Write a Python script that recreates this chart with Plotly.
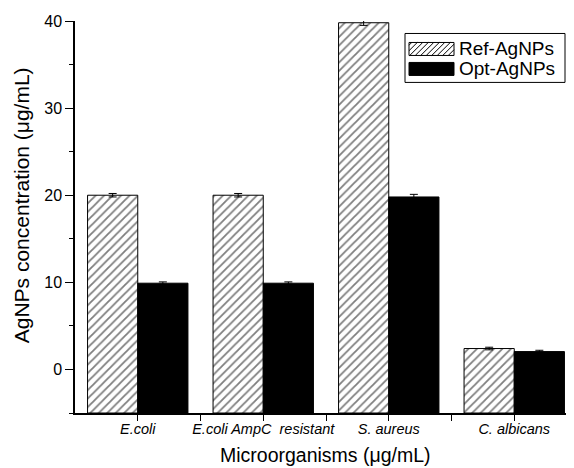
import plotly.graph_objects as go

categories = ["E.coli", "E.coli AmpC\u00a0 resistant", "S. aureus", "C. albicans"]
ref_values = [20.0, 20.0, 39.8, 2.4]
ref_errors = [0.2, 0.2, 0.3, 0.15]
opt_values = [9.9, 9.9, 19.8, 2.05]
opt_errors = [0.15, 0.15, 0.3, 0.15]
series_names = ["Ref-AgNPs", "Opt-AgNPs"]
y_ticks = [0, 10, 20, 30, 40]
AXIS_MIN, AXIS_MAX = -5, 40
x_title = "Microorganisms (μg/mL)"
y_title = "AgNPs concentration (μg/mL)"

idx = list(range(len(categories)))
FONT = "Arial, Liberation Sans, sans-serif"

# figure geometry (page has an 8px body margin)
W, H = 566, 460
ML, MR, MT, MB = 67, 0, 12.5, 55
PW, PH = W - ML - MR, H - MT - MB
OFF = 8


def px(x):  # page x pixel -> paper
    return (x - OFF - ML) / PW


def py(y):  # page y pixel -> paper
    return 1 - (y - OFF - MT) / PH


fig = go.Figure()
fig.add_trace(go.Bar(
    x=idx, y=[v - AXIS_MIN for v in ref_values], base=AXIS_MIN, name=series_names[0],
    showlegend=False,
    marker=dict(color="white", line=dict(color="black", width=1),
                pattern=dict(shape="/", fgcolor="black", bgcolor="white", size=6, solidity=0.3)),
    error_y=dict(type="data", array=ref_errors, color="black", thickness=1, width=4),
))
fig.add_trace(go.Bar(
    x=idx, y=[v - AXIS_MIN for v in opt_values], base=AXIS_MIN, name=series_names[1],
    showlegend=False,
    marker=dict(color="black", line=dict(color="black", width=1)),
    error_y=dict(type="data", array=opt_errors, color="black", thickness=1, width=4),
))

shapes = []
annotations = []
# legend box
shapes.append(dict(type="rect", xref="paper", yref="paper",
                   x0=px(405), x1=px(565), y0=py(82), y1=py(33),
                   line=dict(color="black", width=1), fillcolor="white", layer="above"))
# hatched swatch
sx0, sx1, sy0, sy1 = 409, 454, 42, 55
step = 5.5
c = sx0 + sy0 + step / 2
while c < sx1 + sy1:
    xa = max(sx0, c - sy1)
    xb = min(sx1, c - sy0)
    if xb > xa:
        shapes.append(dict(type="line", xref="paper", yref="paper",
                           x0=px(xa), y0=py(c - xa), x1=px(xb), y1=py(c - xb),
                           line=dict(color="black", width=1), layer="above"))
    c += step
shapes.append(dict(type="rect", xref="paper", yref="paper",
                   x0=px(sx0), x1=px(sx1), y0=py(sy1), y1=py(sy0),
                   line=dict(color="black", width=1), layer="above"))
# solid swatch
shapes.append(dict(type="rect", xref="paper", yref="paper",
                   x0=px(409), x1=px(454), y0=py(75), y1=py(62),
                   line=dict(color="black", width=1), fillcolor="black", layer="above"))
for name, yc in zip(series_names, [48.5, 68.5]):
    annotations.append(dict(text=name, xref="paper", yref="paper", x=px(457), y=py(yc),
                            xanchor="left", yanchor="middle", showarrow=False,
                            font=dict(size=19, family=FONT, color="black")))
# y axis title
annotations.append(dict(text=y_title, xref="paper", yref="paper", x=px(21), y=py(205),
                        xanchor="center", yanchor="middle", textangle=-90, showarrow=False,
                        font=dict(size=21, family=FONT, color="black")))
# x axis title
annotations.append(dict(text=x_title, xref="paper", yref="paper", x=px(325), y=py(455),
                        xanchor="center", yanchor="middle", showarrow=False,
                        font=dict(size=19.5, family=FONT, color="black")))

fig.update_layout(
    width=W, height=H,
    margin=dict(l=ML, r=MR, t=MT, b=MB, autoexpand=False),
    plot_bgcolor="white", paper_bgcolor="white",
    barmode="group", bargap=0.2, bargroupgap=0,
    font=dict(family=FONT, color="black"),
    showlegend=False,
    shapes=shapes, annotations=annotations,
)
fig.update_xaxes(
    range=[-0.5, -0.5 + PW / 125.5], showline=True, linecolor="black", linewidth=1.5,
    tickmode="array", tickvals=idx, ticktext=["<i>%s</i>" % c for c in categories],
    ticks="outside", ticklen=6, tickcolor="black", tickwidth=1.2, ticklabelstandoff=-4,
    minor=dict(tickmode="array", tickvals=[i + 0.5 for i in idx[:-1]], ticks="outside",
               ticklen=6, tickcolor="black", tickwidth=1.2),
    tickfont=dict(size=14.5, family=FONT),
    showgrid=False, zeroline=False, automargin=False,
)
fig.update_yaxes(
    range=[AXIS_MIN, AXIS_MAX], showline=True, linecolor="black", linewidth=1.5,
    tickmode="array", tickvals=y_ticks,
    ticks="outside", ticklen=8, tickcolor="black", tickwidth=1.2,
    minor=dict(dtick=5, tick0=0, ticks="outside", ticklen=4, tickcolor="black", showgrid=False),
    tickfont=dict(size=16, family=FONT),
    showgrid=False, zeroline=False, automargin=False,
)

fig.write_html("out.html")
